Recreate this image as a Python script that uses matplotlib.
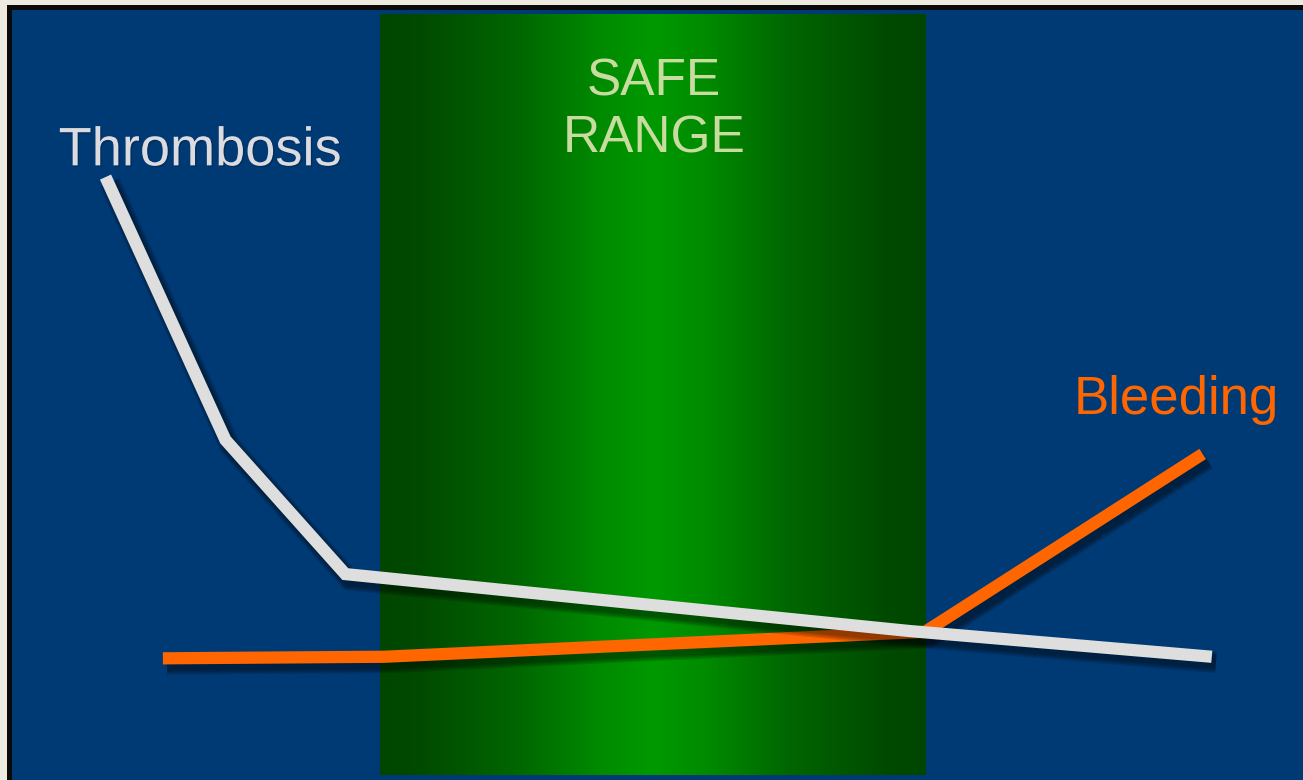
import numpy as np
import matplotlib
matplotlib.use("Agg")
import matplotlib.pyplot as plt
import matplotlib.patheffects as pe
from matplotlib.colors import LinearSegmentedColormap
from matplotlib.patches import Rectangle

# anticoagulation intensity (x) vs event risk (y), arbitrary 0-100 units
thrombosis_x = [8.1, 17.3, 26.5, 69.8, 93.0]
thrombosis_y = [77.3, 43.6, 26.4, 19.1, 15.8]
bleeding_x = [12.5, 29.5, 71.0, 92.3]
bleeding_y = [15.6, 15.8, 19.0, 41.8]

# therapeutic window
safe_lo, safe_hi = 29.2, 71.1
safe_bottom, safe_top = 0.6, 98.1

plt.rcParams['font.family'] = ['Liberation Sans', 'DejaVu Sans']

fig = plt.figure(figsize=(13.03, 7.8), dpi=100)
fig.patch.set_facecolor('#EDEAE0')
ax = fig.add_axes([0, 0, 1, 1])
ax.set_xlim(0, 100)
ax.set_ylim(0, 100)
ax.axis('off')

# slide panel: black rim with blue fill
ax.add_patch(Rectangle((7 / 13.03, -1), 110, 100 - 5 / 7.8 + 1,
                       facecolor='#0A0A0A', edgecolor='none', zorder=0))
ax.add_patch(Rectangle((12 / 13.03, -1), 110, 100 - 10 / 7.8 + 1,
                       facecolor='#003A75', edgecolor='none', zorder=0.5))

# green band, dark at edges and bright in the middle
band_cmap = LinearSegmentedColormap.from_list(
    'band', [(0.0, '#004600'), (0.07, '#004A00'), (0.25, '#006600'),
             (0.4, '#008A00'), (0.5, '#009900'), (0.6, '#008A00'),
             (0.75, '#006600'), (0.93, '#004A00'), (1.0, '#004600')])
ax.imshow(np.linspace(0, 1, 512)[None, :], cmap=band_cmap, aspect='auto',
          extent=(safe_lo, safe_hi, safe_bottom, safe_top), zorder=1,
          interpolation='bilinear')


def soft_shadow(lw):
    layers = [pe.SimpleLineShadow(offset=(3, -4), shadow_color='k',
                                  alpha=0.13, linewidth=lw + k)
              for k in (7, 5, 3, 1)]
    return layers + [pe.Normal()]


lw = 8.8
ax.plot(bleeding_x, bleeding_y, color='#FF6600', lw=lw,
        solid_capstyle='butt', solid_joinstyle='miter', zorder=3,
        path_effects=soft_shadow(lw))
ax.plot(thrombosis_x, thrombosis_y, color='#DEDEDE', lw=lw,
        solid_capstyle='butt', solid_joinstyle='miter', zorder=4,
        path_effects=soft_shadow(lw))

text_fx = [pe.withSimplePatchShadow(offset=(1, -1), shadow_rgbFace='k',
                                    alpha=0.2)]
ax.text(4.5, 78.8, 'Thrombosis', color='#DCDCE0', fontsize=39,
        ha='left', va='baseline', zorder=5, path_effects=text_fx)
ax.text(50.2, 87.8, 'SAFE', color='#C8DCA0', fontsize=37,
        ha='center', va='baseline', zorder=5)
ax.text(50.2, 80.4, 'RANGE', color='#C8DCA0', fontsize=37,
        ha='center', va='baseline', zorder=5)
ax.text(82.4, 46.9, 'Bleeding', color='#FF6600', fontsize=38,
        ha='left', va='baseline', zorder=5)

fig.savefig('out.png', dpi=100, facecolor=fig.get_facecolor())
